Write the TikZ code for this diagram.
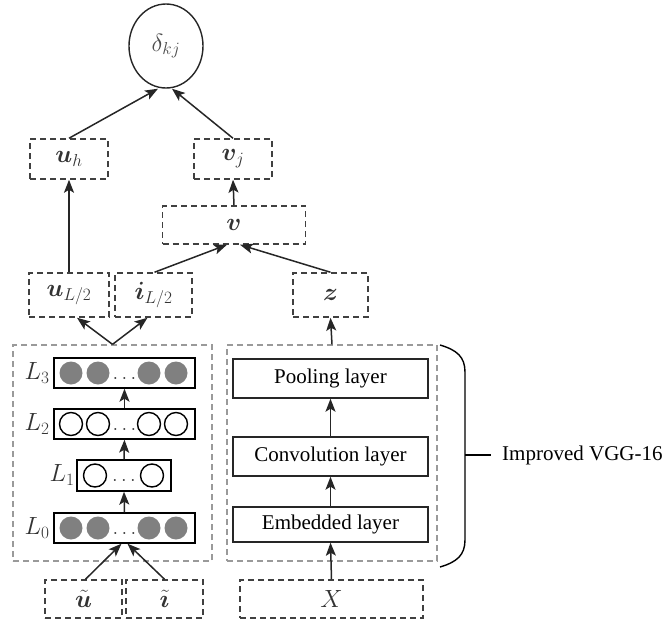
\documentclass[tikz,border=0pt]{standalone}
\usepackage{fontspec}
\setmainfont{Liberation Serif}
\usepackage{amsmath,bm}
\usetikzlibrary{arrows.meta,calc,shapes.geometric}
\definecolor{dashgray}{HTML}{404040}
\definecolor{lightdash}{HTML}{9A9A9A}
\definecolor{unitgray}{HTML}{808080}
\tikzset{
  arr/.style={-{Stealth[length=13pt,width=10pt,inset=3pt]}, line width=1.5pt, draw=black!85},
  dbox/.style={draw=dashgray, dash pattern=on 6pt off 4pt, line width=1.5pt, inner sep=0pt,
               minimum height=40pt, font=\fontsize{25}{27}\selectfont, text=black!80},
  cbox/.style={draw=lightdash, dash pattern=on 6pt off 4pt, line width=1.3pt, inner sep=0pt},
  layerbox/.style={draw=black, line width=1.4pt, inner sep=0pt, minimum height=30pt},
  netbox/.style={draw=black!85, line width=1.4pt, inner sep=0pt, font=\fontsize{21}{23}\selectfont},
  lab/.style={font=\fontsize{25}{27}\selectfont, text=black!80, inner sep=0pt},
  dotlab/.style={font=\fontsize{21}{23}\selectfont, text=black!80, inner sep=0pt},
  fullunit/.style={fill=unitgray},
  openunit/.style={draw=black, line width=1.4pt, fill=white},
}
\begin{document}
\begin{tikzpicture}[x=1pt, y=-1pt]
\useasboundingbox (0,0) rectangle (667,624);

% output node
\node[ellipse, draw=black!85, line width=1.4pt, minimum width=74pt, minimum height=84pt, inner sep=0pt,
      font=\fontsize{25}{27}\selectfont, text=black!70] (d) at (166,46) {$\delta_{kj}$};

% latent vectors
\node[dbox, minimum width=78pt] (uh) at (69,159) {$\bm{u}_h$};
\node[dbox, minimum width=78pt] (vj) at (233,159) {$\bm{v}_j$};
\node[dbox, minimum width=143pt, minimum height=38pt] (v) at (234,225) {$\bm{v}$};
\node[dbox, minimum width=80pt, minimum height=44pt] (uL) at (69,295) {$\bm{u}_{L/2}$};
\node[dbox, minimum width=77pt, minimum height=44pt] (iL) at (153.5,295) {$\bm{i}_{L/2}$};
\node[dbox, minimum width=75pt, minimum height=44pt] (z) at (330.5,295) {$\bm{z}$};

% inputs
\node[dbox, minimum width=77pt, minimum height=38pt] (ut) at (83.5,599) {$\tilde{\bm{u}}$};
\node[dbox, minimum width=77pt, minimum height=38pt] (it) at (164.5,599) {$\tilde{\bm{\imath}}$};
\node[dbox, minimum width=183pt, minimum height=38pt, font=\fontsize{23}{25}\selectfont] (x) at (331.5,599) {$X$};

% container boxes
\node[cbox, minimum width=199pt, minimum height=216pt] (left) at (112.5,453) {};
\node[cbox, minimum width=210pt, minimum height=216pt] (right) at (332,453) {};

% MLP layers
\node[layerbox, minimum width=141pt] (l3) at (124.5,373) {};
\node[layerbox, minimum width=141pt] (l2) at (124.5,424) {};
\node[layerbox, minimum width=94pt, minimum height=31pt] (l1) at (124,475.5) {};
\node[layerbox, minimum width=141pt] (l0) at (124.5,528) {};

\foreach \yy in {373,528} {
  \foreach \xx in {71,98,149,176} \fill[fullunit] (\xx,\yy) circle (11.5pt);
}
\foreach \xx in {71,98,149,176} \draw[openunit] (\xx,424) circle (11.5pt);
\foreach \xx in {95,152} \draw[openunit] (\xx,475.5) circle (11.5pt);

\node[dotlab] (dots3) at (124.5,378) {$\ldots$};
\node[dotlab] (dots2) at (124.5,429) {$\ldots$};
\node[dotlab] (dots1) at (124,480) {$\ldots$};
\node[dotlab] (dots0) at (124.5,533) {$\ldots$};

\node[lab] (n3) at (37,373) {$L_3$};
\node[lab] (n2) at (37,424) {$L_2$};
\node[lab] (n1) at (62,475) {$L_1$};
\node[lab] (n0) at (37,528) {$L_0$};

% CNN layers
\node[netbox, minimum width=195pt, minimum height=39pt] (pool) at (330.5,378.5) {Pooling layer};
\node[netbox, minimum width=195pt, minimum height=39pt] (conv) at (330.5,456.5) {Convolution layer};
\node[netbox, minimum width=195pt, minimum height=35pt] (emb) at (330.5,524.5) {Embedded layer};

% connectors
\draw[arr] ($(ut.north)+(2,0)$) -- ($(l0.south)+(-3,0)$);
\draw[arr] (it.north) -- ($(l0.south)+(3,0)$);
\draw[arr] (l0.north) -- (l1.south);
\draw[arr] (l1.north) -- (l2.south);
\draw[arr] (l2.north) -- (l3.south);
\draw[arr] (left.north) -- ($(uL.south)+(8,0)$);
\draw[arr] (left.north) -- ($(iL.south)+(-6,0)$);

\draw[arr] (x.north) -- (emb.south);
\draw[arr] (emb.north) -- (conv.south);
\draw[arr] (conv.north) -- (pool.south);
\draw[arr] (right.north) -- (z.south);

\draw[arr] (uL.north) -- (uh.south);
\draw[arr] ($(iL.north)+(1,0)$) -- ($(v.south)+(-7,0)$);
\draw[arr] (z.north) -- ($(v.south)+(6,0)$);
\draw[arr] (v.north) -- (vj.south);
\draw[arr] (uh.north) -- ($(d.south)+(-8,0)$);
\draw[arr] (vj.north) -- ($(d.south)+(6,0)$);

% bracket marking the CNN part
\coordinate (btop) at (440,345);
\coordinate (bbot) at (440,567);
\coordinate (tip) at (465,455);
\draw[line width=1.4pt]
  (btop) .. controls (457,350) and (465,357) .. (465,372)
  -- (465,540) .. controls (465,555) and (457,562) .. (bbot);
\node[font=\fontsize{21}{23}\selectfont, anchor=west, inner sep=0pt] (vgg) at (502,455) {Improved VGG-16};
\draw[line width=1.4pt] (tip) -- ($(vgg.west)+(-11,0)$);
\end{tikzpicture}
\end{document}
